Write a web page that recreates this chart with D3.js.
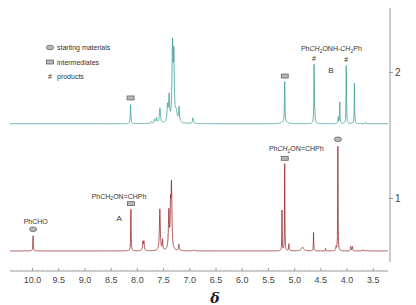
<!DOCTYPE html>
<html lang="en">
<head>
  <meta charset="UTF-8">
  <title>NMR stack</title>
  <script src="https://d3js.org/d3.v7.min.js"></script>
  <style>
    body { margin: 0; padding: 0; background: #fff; }
    svg { display: block; font-family: "Liberation Sans", Arial, sans-serif; }
  </style>
</head>
<body>
<svg id="chart" width="416" height="305"></svg>
<script>
// peak lists: [ppm, height, half width (ppm)]
const peaksTop = [
  [8.12, 0.15, 0.006],
  [7.72, 0.015, 0.01], [7.66, 0.03, 0.01], [7.625, 0.042, 0.01],
  [7.56, 0.12, 0.012], [7.415, 0.13, 0.012], [7.385, 0.2, 0.01],
  [7.32, 0.6, 0.012], [7.295, 0.48, 0.01], [7.25, 0.08, 0.02],
  [7.195, 0.12, 0.01], [6.93, 0.045, 0.01],
  [5.23, 0.012, 0.02], [5.18, 0.33, 0.006], [5.13, 0.01, 0.02],
  [4.62, 0.46, 0.005], [4.605, 0.08, 0.006],
  [4.16, 0.05, 0.005], [4.13, 0.17, 0.005],
  [4.006, 0.46, 0.005], [3.85, 0.32, 0.005], [3.64, 0.01, 0.005]
];
const peaksBottom = [
  [9.98, 0.12, 0.005],
  [8.114, 0.33, 0.005],
  [7.885, 0.07, 0.008], [7.865, 0.07, 0.008],
  [7.562, 0.33, 0.01], [7.51, 0.08, 0.006],
  [7.39, 0.3, 0.01], [7.358, 0.3, 0.008], [7.34, 0.5, 0.01],
  [7.2, 0.05, 0.008], [6.91, 0.008, 0.01],
  [5.232, 0.32, 0.004], [5.18, 0.69, 0.004], [5.10, 0.055, 0.006],
  [4.84, 0.03, 0.025], [4.63, 0.145, 0.004], [4.40, 0.02, 0.004],
  [4.2, 0.03, 0.006], [4.166, 0.83, 0.004],
  [3.92, 0.035, 0.006], [3.89, 0.035, 0.006], [3.69, 0.01, 0.006], [3.62, 0.008, 0.006]
];
const spectra = [
  {name: "top", offset: 1.59, color: "#3d9e98", peaks: peaksTop},
  {name: "bottom", offset: 0.58, color: "#9a2b2e", peaks: peaksBottom}
];
const xTicks = [10.0, 9.5, 9.0, 8.5, 8.0, 7.5, 7.0, 6.5, 6.0, 5.5, 5.0, 4.5, 4.0, 3.5];
const yTicks = [1, 2];

// annotations: [ppm, value, kind]
const markers = [
  [8.12, 1.794, "box"], [5.18, 1.968, "box"], [4.62, 2.11, "hash"], [4.006, 2.10, "hash"],
  [9.98, 0.752, "ellipse"], [8.114, 0.955, "box"], [5.18, 1.315, "box"], [4.166, 1.466, "ellipse"]
];
const labels = [
  {ppm: 4.29, v: 2.163, parts: [["Ph"], ["CH", "i"], ["2", "s"], ["ONH-"], ["CH", "i"], ["2", "s"], ["Ph"]]},
  {ppm: 4.30, v: 1.99, parts: [["B"]], size: 8},
  {ppm: 9.93, v: 0.79, parts: [["PhCHO"]]},
  {ppm: 8.34, v: 0.995, parts: [["PhCH"], ["2", "s"], ["ON=CHPh"]]},
  {ppm: 8.34, v: 0.82, parts: [["A"]], size: 8},
  {ppm: 4.96, v: 1.37, parts: [["Ph"], ["CH", "i"], ["2", "s"], ["ON=CHPh"]]}
];
const legend = [
  ["ellipse", "starting materials"],
  ["box", "intermediates"],
  ["hash", "products"]
];

const svg = d3.select("#chart");
const x = d3.scaleLinear().domain([10.42, 3.21]).range([10, 388]);
const y = d3.scaleLinear().domain([1, 2]).range([198, 72]);

// spectrum traces
const grid = d3.range(10.42, 3.21, -0.002);
const line = d3.line().x(d => x(d[0])).y(d => y(d[1]));
spectra.forEach(s => {
  const pts = grid.map(p => {
    let v = 0;
    s.peaks.forEach(([c, h, w]) => { v += h / (1 + ((p - c) / w) ** 2); });
    return [p, s.offset + v];
  });
  svg.append("path").datum(pts)
    .attr("d", line)
    .attr("fill", "none")
    .attr("stroke", s.color)
    .attr("stroke-width", 0.8);
});

// bottom axis
const xAxis = svg.append("g")
  .attr("transform", "translate(0,271)")
  .call(d3.axisBottom(x).tickValues(xTicks).tickFormat(d3.format(".1f")).tickSize(-3).tickPadding(6));
xAxis.select(".domain").attr("stroke", "#999").attr("d", "M10,0H388");
xAxis.selectAll(".tick line").attr("stroke", "#999");
xAxis.selectAll("text").attr("font-size", 9).attr("fill", "#444")
  .attr("font-family", "Liberation Sans, Arial, sans-serif");
svg.append("g").selectAll("line")
  .data(d3.range(10.4, 3.2, -0.1))
  .join("line")
  .attr("x1", d => x(d)).attr("x2", d => x(d))
  .attr("y1", 271).attr("y2", 269.5)
  .attr("stroke", "#bbb").attr("stroke-width", 0.6);

svg.append("text")
  .attr("x", 215).attr("y", 303)
  .attr("text-anchor", "middle")
  .attr("font-family", "DejaVu Serif, serif")
  .attr("font-style", "italic").attr("font-weight", "bold")
  .attr("font-size", 14).attr("fill", "#222")
  .text("δ");

// right axis
const yAxis = svg.append("g")
  .attr("transform", "translate(390,0)")
  .call(d3.axisRight(y).tickValues(yTicks).tickFormat(d3.format("d")).tickSize(3).tickPadding(2));
yAxis.select(".domain").attr("stroke", "#999").attr("d", "M0,8V262");
yAxis.selectAll(".tick line").attr("stroke", "#999").attr("x1", -1);
yAxis.selectAll("text").attr("font-size", 10).attr("fill", "#444")
  .attr("font-family", "Liberation Sans, Arial, sans-serif");

// symbols
function drawMark(g, kind, cx, cy) {
  if (kind === "box") {
    g.append("rect").attr("x", cx - 3.5).attr("y", cy - 2).attr("width", 7).attr("height", 4)
      .attr("fill", "#b8b8b8").attr("stroke", "#555").attr("stroke-width", 0.7);
  } else if (kind === "ellipse") {
    g.append("ellipse").attr("cx", cx).attr("cy", cy).attr("rx", 3.6).attr("ry", 2.3)
      .attr("fill", "#b8b8b8").attr("stroke", "#555").attr("stroke-width", 0.7);
  } else {
    g.append("text").attr("x", cx).attr("y", cy + 2.5).attr("text-anchor", "middle")
      .attr("font-size", 7).attr("fill", "#333").text("#");
  }
}
const mg = svg.append("g");
markers.forEach(([p, v, k]) => drawMark(mg, k, x(p), y(v)));

labels.forEach(l => {
  const t = svg.append("text")
    .attr("x", x(l.ppm)).attr("y", y(l.v))
    .attr("text-anchor", "middle")
    .attr("font-size", l.size || 7).attr("fill", "#333");
  let inSub = false;
  l.parts.forEach(([str, st]) => {
    const ts = t.append("tspan").text(str);
    if (st === "i") ts.attr("font-style", "italic");
    if (st === "s") {
      ts.attr("font-size", 5).attr("dy", 1.5);
      inSub = true;
    } else if (inSub) {
      ts.attr("dy", -1.5);
      inSub = false;
    }
  });
});

// legend
const lg = svg.append("g");
legend.forEach(([k, txt], i) => {
  const cy = 47.5 + i * 14.5;
  drawMark(lg, k, 50, cy);
  lg.append("text").attr("x", 57).attr("y", cy + 2.5)
    .attr("font-size", 7).attr("fill", "#333").text(txt);
});
</script>
</body>
</html>
